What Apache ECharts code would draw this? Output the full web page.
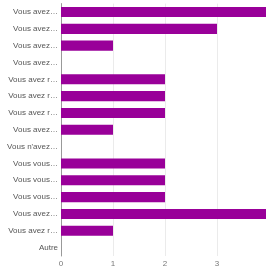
<!DOCTYPE html>
<html>
<head>
<meta charset="utf-8">
<script src="https://cdn.jsdelivr.net/npm/echarts@6/dist/echarts.min.js"></script>
<style>
  html, body { margin: 0; padding: 0; background: #fff; }
  #chart { width: 266px; height: 275px; }
</style>
</head>
<body>
<div id="chart"></div>
<script>
const categories = [
  "Vous avez…", "Vous avez…", "Vous avez…", "Vous avez…",
  "Vous avez r…", "Vous avez r…", "Vous avez r…", "Vous avez…",
  "Vous n'avez…", "Vous vous…", "Vous vous…", "Vous vous…",
  "Vous avez…", "Vous avez r…", "Autre"
];
const values = [4, 3, 1, 0, 2, 2, 2, 1, 0, 2, 2, 2, 4, 1, 0];
const xTicks = [0, 1, 2, 3, 4];

const chart = echarts.init(document.getElementById("chart"));

chart.setOption({
  animation: false,
  grid: {
    left: 61,
    width: 208,
    top: 3.6,
    height: 252.4,
    containLabel: false,
    outerBoundsMode: "none",
  },
  xAxis: {
    type: "value",
    min: xTicks[0],
    max: xTicks[xTicks.length - 1],
    interval: 1,
    axisLine: { show: false },
    axisTick: { show: false },
    splitLine: { lineStyle: { color: "#ebebeb" } },
    axisLabel: {
      color: "#777",
      fontSize: 8,
      fontFamily: "Liberation Sans, Arial",
      margin: 4,
    },
  },
  yAxis: {
    type: "category",
    data: categories,
    inverse: true,
    axisLine: { show: true, lineStyle: { color: "#999", width: 1 } },
    axisTick: { show: false },
    splitLine: { show: false },
    axisLabel: {
      color: "#555",
      fontSize: 8,
      fontFamily: "Liberation Sans, Arial",
      margin: 3,
      interval: 0,
    },
  },
  series: [
    {
      type: "bar",
      data: values,
      barWidth: "60%",
      itemStyle: { color: "#990099" },
    },
  ],
});
</script>
</body>
</html>
